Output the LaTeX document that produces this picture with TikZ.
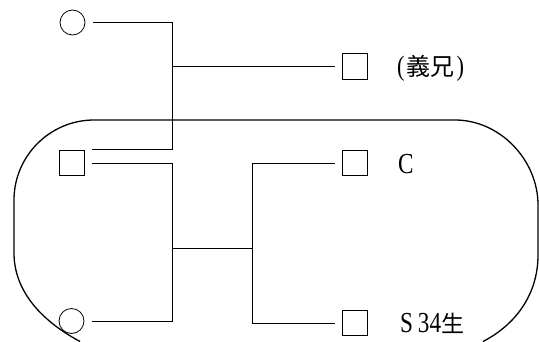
\documentclass[tikz,border=0pt]{standalone}
\usepackage{fontspec}
\newfontfamily\latf[FakeStretch=0.8]{Liberation Serif}
\newfontfamily\cjk{Noto Sans CJK JP}
\begin{document}
\begin{tikzpicture}[x=1pt,y=-1pt,
  person/.style={draw,line width=0.8pt,inner sep=0pt,minimum size=25.5pt},
  male/.style={person,rectangle},
  female/.style={person,circle,minimum size=25pt},
  link/.style={line width=0.9pt},
  lbl/.style={anchor=west,inner sep=0pt}]
\useasboundingbox (0,0) rectangle (539,341);
\begin{scope}
\clip (0,0) rectangle (539,341);
\draw[line width=1.3pt] (80,341.5) .. controls (40,320) and (14,290) .. (14,253)
  -- (14,200) .. controls (14,156) and (50,120) .. (94,120)
  -- (455,120) .. controls (500,120) and (538,160) .. (538,205)
  -- (538,255) .. controls (538,295) and (515,325) .. (483,341.5);
\end{scope}
\node[female] (m1) at (72.5,22.5) {};
\node[male] (f1) at (355,66.5) {};
\node[male] (p) at (72,163) {};
\node[male] (c) at (355,163) {};
\node[male] (s) at (355,323) {};
\node[female] (m2) at (71.5,321) {};
\coordinate (j1) at (172.5,66.5);
\coordinate (j2) at (172.5,248);
\coordinate (j3) at (252,248);
\draw[link] ([xshift=8pt]m1.east) -- (m1.east -| j1) -- (p.north -| j1) -- ([xshift=7pt]p.north east);
\draw[link] (j1) -- ([xshift=-7pt]f1.west);
\draw[link] ([xshift=7pt]p.east) -- (p.east -| j1) -- (m2.east -| j1) -- ([xshift=8pt]m2.east);
\draw[link] (j2) -- (j3);
\draw[link] ([xshift=-7pt]c.west) -- (c.west -| j3) -- (s.west -| j3) -- ([xshift=-7pt]s.west);
\node[lbl] (t1) at (397,68) {\fontsize{28}{28}\selectfont\latf(\kern2pt\cjk\fontsize{24}{24}\selectfont 義兄\kern2pt\latf\fontsize{28}{28}\selectfont)};
\node[lbl] (t2) at (398,164) {\fontsize{29}{29}\selectfont\latf C};
\node[lbl] (t3) at (400,323) {\fontsize{29}{29}\selectfont\latf S\,34\cjk\fontsize{23}{23}\selectfont 生};
\end{tikzpicture}
\end{document}
